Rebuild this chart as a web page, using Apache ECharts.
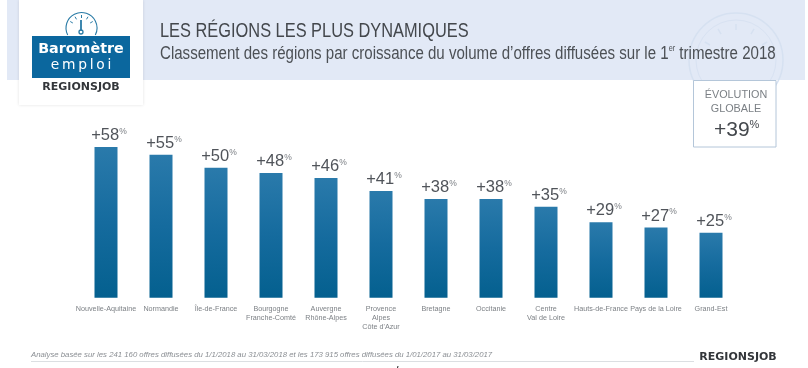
<!DOCTYPE html>
<html><head><meta charset="utf-8">
<style>html,body{margin:0;padding:0;background:#fff}#c{width:808px;height:368px}</style>
<script src="https://cdn.jsdelivr.net/npm/echarts@6/dist/echarts.min.js"></script>
</head><body><div id="c"></div>
<script>
const categories = ["Nouvelle-Aquitaine","Normandie","Île-de-France","Bourgogne\nFranche-Comté","Auvergne\nRhône-Alpes","Provence\nAlpes\nCôte d'Azur","Bretagne","Occitanie","Centre\nVal de Loire","Hauts-de-France","Pays de la Loire","Grand-Est"];
const growth = [58,55,50,48,46,41,38,38,35,29,27,25];
const globalGrowth = 39;
const titleText = "LES RÉGIONS LES PLUS DYNAMIQUES";
const subtitleBefore = "Classement des régions par croissance du volume d’offres diffusées sur le 1";
const subtitleAfter = " trimestre 2018";
const footnote = "Analyse basée sur les 241 160 offres diffusées du 1/1/2018 au 31/03/2018 et les 173 915 offres diffusées du 1/01/2017 au 31/03/2017";
const sans = '"Liberation Sans",sans-serif';
const chart = echarts.init(document.getElementById('c'), null, {renderer:'canvas'});

const tickAngles = [-150,-120,-90,-60,-30];
function gaugeTicks(cx,cy,r1,r2,stroke,w){
  return tickAngles.map(a=>{const t=a*Math.PI/180;return {type:'line',z:3,silent:true,
    shape:{x1:cx+r1*Math.cos(t),y1:cy+r1*Math.sin(t),x2:cx+r2*Math.cos(t),y2:cy+r2*Math.sin(t)},
    style:{stroke,lineWidth:w}};});
}
chart.setOption({
  animation:false,
  backgroundColor:'#ffffff',
  grid:{left:78.5,width:660,top:37.7,height:260},
  xAxis:{type:'category',data:categories,axisLine:{show:false},axisTick:{show:false},
    axisLabel:{interval:0,margin:6.5,fontFamily:sans,fontSize:7.2,lineHeight:9,color:'#7d8186',verticalAlign:'top'}},
  yAxis:{type:'value',min:0,max:100,show:false,splitLine:{show:false}},
  series:[{type:'bar',data:growth,barWidth:23,z:2,
    itemStyle:{color:new echarts.graphic.LinearGradient(0,0,0,1,[{offset:0,color:'#2a7aab'},{offset:0.5,color:'#156b9e'},{offset:1,color:'#04608f'}])},
    label:{show:true,position:'top',distance:3,offset:[3,0],
      formatter:p=>`{v|+${p.value}}{p|%}`,
      rich:{v:{fontFamily:sans,fontSize:16.5,color:'#50545a',lineHeight:17},
            p:{fontFamily:sans,fontSize:8.5,color:'#777b80',verticalAlign:'top',lineHeight:17,padding:[0,0,7,0]}}}
  }],
  graphic:[
    {type:'rect',z:0,silent:true,shape:{x:7,y:0,width:798,height:80},style:{fill:'#e2e9f6'}},
    {type:'circle',z:1,silent:true,shape:{cx:736,cy:60,r:47},style:{fill:'none',stroke:'#d6e1f1',lineWidth:1.5}},
    {type:'circle',z:1,silent:true,shape:{cx:736,cy:60,r:40},style:{fill:'none',stroke:'#d8e2f2',lineWidth:1}},
    ...gaugeTicks(736,60,30,36,'#d6e1f1',1.5),
    {type:'rect',z:1,silent:true,shape:{x:19,y:0,width:124,height:105},style:{fill:'#ffffff',shadowBlur:3,shadowColor:'rgba(0,0,0,0.12)'}},
    {type:'text',z:5,silent:true,x:160,y:31,scaleX:0.78,style:{text:titleText,fill:'#43474c',font:'21px '+sans,align:'left',verticalAlign:'middle'}},
    {type:'text',z:5,silent:true,x:160,y:54,scaleX:0.861,style:{text:`${subtitleBefore}{s|er}${subtitleAfter}`,align:'left',verticalAlign:'middle',
      font:'17.5px '+sans,fill:'#4c5055',
      rich:{s:{fontFamily:sans,fontSize:8.5,fill:'#4c5055',verticalAlign:'top',lineHeight:19,padding:[0,0,8,0]}}}},
    {type:'arc',z:3,silent:true,shape:{cx:81.5,cy:28,r:15.5,startAngle:Math.PI*0.85,endAngle:Math.PI*2.15},style:{fill:'none',stroke:'#2a7ba6',lineWidth:1.1}},
    ...gaugeTicks(81.5,28,10,13,'#2a7ba6',1),
    {type:'line',z:3,silent:true,shape:{x1:81,y1:20,x2:81,y2:31},style:{stroke:'#2a7ba6',lineWidth:1.8}},
    {type:'circle',z:3,silent:true,shape:{cx:81,cy:32,r:2},style:{fill:'none',stroke:'#2a7ba6',lineWidth:1.3}},
    {type:'rect',z:3,silent:true,shape:{x:32,y:36,width:98,height:42},style:{fill:'#0b679e'}},
    {type:'text',z:4,silent:true,x:81,y:49.5,style:{text:'Baromètre',fill:'#ffffff',font:'bold 14.3px "DejaVu Sans",sans-serif',align:'center',verticalAlign:'middle'}},
    {type:'text',z:4,silent:true,x:81,y:65.5,style:{text:'e\u2009m\u2009p\u2009l\u2009o\u2009i',fill:'#ffffff',font:'13.8px "DejaVu Sans",sans-serif',align:'center',verticalAlign:'middle'}},
    {type:'text',z:4,silent:true,x:81,y:87,style:{text:'REGIONSJOB',fill:'#33363a',font:'bold 11px "DejaVu Sans",sans-serif',align:'center',verticalAlign:'middle'}},
    {type:'rect',z:3,silent:true,shape:{x:693.5,y:80.5,width:82.5,height:66.5},style:{fill:'#ffffff',stroke:'#b4c6d9',lineWidth:1}},
    {type:'text',z:4,silent:true,x:736,y:95,style:{text:'ÉVOLUTION',fill:'#7a7f84',font:'10.8px '+sans,align:'center',verticalAlign:'middle'}},
    {type:'text',z:4,silent:true,x:736,y:109,style:{text:'GLOBALE',fill:'#7a7f84',font:'10.8px '+sans,align:'center',verticalAlign:'middle'}},
    {type:'text',z:4,silent:true,x:714,y:130,style:{text:`{v|+${globalGrowth}}{p|%}`,align:'left',verticalAlign:'middle',
      rich:{v:{fontFamily:sans,fontSize:21,fill:'#44484d',lineHeight:22},
            p:{fontFamily:sans,fontSize:11,fill:'#44484d',verticalAlign:'top',lineHeight:22,padding:[0,0,9,0]}}}},
    {type:'text',z:4,silent:true,x:31,y:355,style:{text:footnote,fill:'#8a8e93',font:'italic 7.77px '+sans,align:'left',verticalAlign:'middle'}},
    {type:'line',z:1,silent:true,shape:{x1:31,y1:361.5,x2:694,y2:361.5},style:{stroke:'#dcdfe2',lineWidth:1}},
    {type:'text',z:4,silent:true,x:738,y:357,style:{text:'REGIONSJOB',fill:'#33363a',font:'bold 11px "DejaVu Sans",sans-serif',align:'center',verticalAlign:'middle'}},
    {type:'line',z:4,silent:true,shape:{x1:398,y1:366,x2:397.5,y2:368},style:{stroke:'#222',lineWidth:1}}
  ]
});
</script></body></html>
